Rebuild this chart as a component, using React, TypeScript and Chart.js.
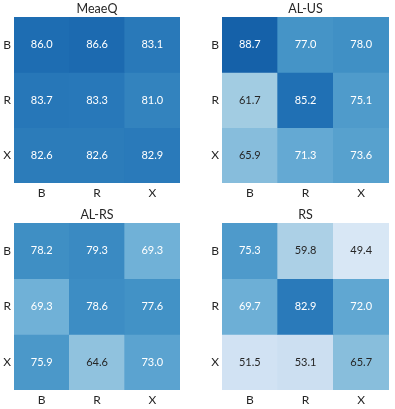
import React, { useEffect, useRef } from "react";
import { Chart, registerables } from "chart.js";

Chart.register(...registerables);

const colLabels = ["B", "R", "X"];
const rowLabels = ["B", "R", "X"];
const titles = ["MeaeQ", "AL-US", "AL-RS", "RS"];

const meaeq = [
  [86.0, 86.6, 83.1],
  [83.7, 83.3, 81.0],
  [82.6, 82.6, 82.9],
];
const alus = [
  [88.7, 77.0, 78.0],
  [61.7, 85.2, 75.1],
  [65.9, 71.3, 73.6],
];
const alrs = [
  [78.2, 79.3, 69.3],
  [69.3, 78.6, 77.6],
  [75.9, 64.6, 73.0],
];
const rs = [
  [75.3, 59.8, 49.4],
  [69.7, 82.9, 72.0],
  [51.5, 53.1, 65.7],
];

const VMIN = 40;
const VMAX = 100;
const FONT = "Lato, 'Liberation Sans', sans-serif";
const TEXT_DARK = "#262626";

const BLUES = [
  "#f7fbff", "#deebf7", "#c6dbef", "#9ecae1", "#6baed6",
  "#4292c6", "#2171b5", "#08519c", "#08306b",
];

function hexToRgb(h: string) {
  return [parseInt(h.slice(1, 3), 16), parseInt(h.slice(3, 5), 16), parseInt(h.slice(5, 7), 16)];
}

function bluesRgb(v: number) {
  let t = (v - VMIN) / (VMAX - VMIN);
  t = Math.max(0, Math.min(1, t));
  const pos = t * (BLUES.length - 1);
  const i = Math.min(BLUES.length - 2, Math.floor(pos));
  const f = pos - i;
  const a = hexToRgb(BLUES[i]);
  const b = hexToRgb(BLUES[i + 1]);
  return a.map((c, k) => Math.round(c + (b[k] - c) * f));
}

function rgbStr(c: number[]) {
  return `rgb(${c[0]},${c[1]},${c[2]})`;
}

function luminance(c: number[]) {
  const l = c.map((x) => {
    const s = x / 255;
    return s <= 0.03928 ? s / 12.92 : Math.pow((s + 0.055) / 1.055, 2.4);
  });
  return 0.2126 * l[0] + 0.7152 * l[1] + 0.0722 * l[2];
}

type PanelProps = {
  title: string;
  values: number[][];
  left: number;
  top: number;
  w: number;
  h: number;
  L: number;
  T: number;
  R: number;
  B: number;
};

function Panel(p: PanelProps) {
  const ref = useRef<HTMLCanvasElement>(null);
  useEffect(() => {
    if (!ref.current) return;
    const datasets = p.values.map((row, r) => ({
      label: rowLabels[r],
      data: row.map(() => [r, r + 1] as [number, number]),
      backgroundColor: row.map((v) => rgbStr(bluesRgb(v))),
      borderWidth: 0,
      barPercentage: 1,
      categoryPercentage: 1,
    }));
    const textPlugin = {
      id: "cellText",
      afterDatasetsDraw(chart: any) {
        const ctx = chart.ctx;
        ctx.save();
        ctx.font = `11px ${FONT}`;
        ctx.textAlign = "center";
        ctx.textBaseline = "middle";
        p.values.forEach((row, r) => {
          const meta = chart.getDatasetMeta(r);
          row.forEach((v, c) => {
            const el = meta.data[c];
            const cy = (el.y + el.base) / 2;
            const col = bluesRgb(v);
            ctx.fillStyle = luminance(col) > 0.408 ? TEXT_DARK : "#ffffff";
            ctx.fillText(v.toFixed(1), el.x, cy);
          });
        });
        const ca = chart.chartArea;
        ctx.fillStyle = TEXT_DARK;
        ctx.font = `12.5px ${FONT}`;
        ctx.fillText(p.title, (ca.left + ca.right) / 2, ca.top - 8.5);
        ctx.restore();
      },
    };
    const chart = new Chart(ref.current, {
      type: "bar",
      data: { labels: colLabels, datasets },
      options: {
        animation: false,
        responsive: false,
        maintainAspectRatio: false,
        layout: { padding: { top: p.T, right: p.w - p.R, left: 0, bottom: 0 } },
        plugins: { legend: { display: false }, tooltip: { enabled: false }, title: { display: false } },
        scales: {
          x: {
            stacked: true,
            grid: { display: false, drawTicks: false },
            border: { display: false },
            ticks: { color: TEXT_DARK, font: { family: FONT, size: 12 }, padding: 3 },
            afterFit: (s: any) => { s.height = p.h - p.B; },
          },
          y: {
            stacked: false,
            reverse: true,
            min: 0,
            max: 3,
            grid: { display: false, drawTicks: false },
            border: { display: false },
            afterBuildTicks: (s: any) => { s.ticks = [{ value: 0.5 }, { value: 1.5 }, { value: 2.5 }]; },
            ticks: {
              color: TEXT_DARK,
              font: { family: FONT, size: 12 },
              padding: 3,
              callback: (v: any) => rowLabels[Math.floor(Number(v))] ?? "",
            },
            afterFit: (s: any) => { s.width = p.L; },
          },
        },
      },
      plugins: [textPlugin],
    } as any);
    return () => chart.destroy();
  }, []);
  return (
    <canvas
      ref={ref}
      width={p.w}
      height={p.h}
      style={{ position: "absolute", left: p.left, top: p.top, width: p.w, height: p.h }}
    />
  );
}

export default function App() {
  useEffect(() => {
    document.body.style.margin = "0";
  }, []);
  return (
    <div style={{ position: "fixed", left: 0, top: 0, width: 395, height: 409, background: "#fff" }}>
      <Panel title={titles[0]} values={meaeq} left={0} top={0} w={197} h={200} L={14} T={17} R={180} B={183} />
      <Panel title={titles[1]} values={alus} left={197} top={0} w={198} h={200} L={25} T={17} R={192} B={183} />
      <Panel title={titles[2]} values={alrs} left={0} top={200} w={197} h={209} L={14} T={23} R={180} B={190} />
      <Panel title={titles[3]} values={rs} left={197} top={200} w={198} h={209} L={25} T={23} R={192} B={190} />
    </div>
  );
}
